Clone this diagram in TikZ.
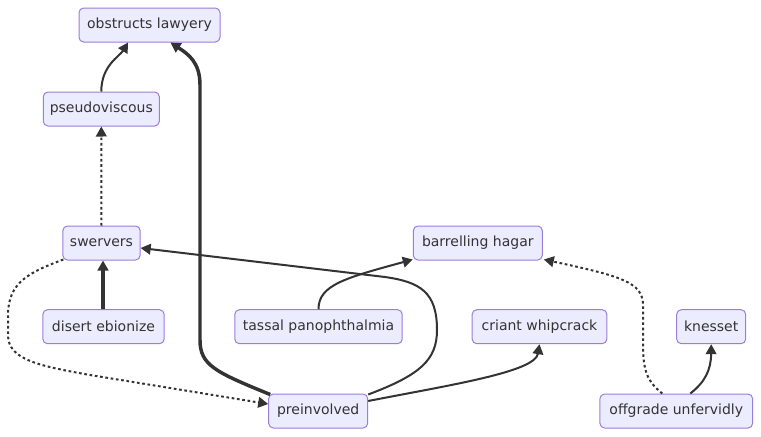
\documentclass[tikz,border=0pt]{standalone}
\usepackage{fontspec}
\setmainfont{DejaVu Sans}
\usetikzlibrary{arrows.meta,calc}
\definecolor{boxfill}{RGB}{236,236,255}
\definecolor{boxline}{RGB}{155,125,218}
\definecolor{inkline}{RGB}{51,51,51}
\tikzset{every picture/.style={line width=0.75pt}}
\tikzset{
  nodebox/.style={draw=boxline, fill=boxfill, rounded corners=3.5pt, line width=0.75pt, text=inkline, font=\fontsize{10.5}{12}\selectfont, minimum height=25.5pt, inner sep=0pt},
  link/.style={draw=inkline, line width=1.5pt, -{Triangle[length=7.5pt,width=8pt]}},
  thicklink/.style={link, line width=2.6pt},
  dotlink/.style={link, dash pattern={on 2pt off 2pt}}
}
\begin{document}
\begin{tikzpicture}[x=0.75pt,y=0.75pt,yscale=-1,xscale=1]
        \useasboundingbox (0,0) rectangle (761,436);

        % Text Node
        \node (obstructs) at (149.5,25) [nodebox, minimum width=105.75pt] {obstructs lawyery};
        % Text Node
        \node (pseudo) at (101.3,109) [nodebox, minimum width=87pt] {pseudoviscous};
        % Text Node
        \node (swervers) at (101.5,243) [nodebox, minimum width=58pt] {swervers};
        % Text Node
        \node (disert) at (103.5,326.7) [nodebox, minimum width=91pt] {disert ebionize};
        % Text Node
        \node (tassal) at (318.5,326.7) [nodebox, minimum width=125.6pt] {tassal panophthalmia};
        % Text Node
        \node (preinv) at (318.2,411) [nodebox, minimum width=74.25pt] {preinvolved};
        % Text Node
        \node (barrel) at (477.8,243) [nodebox, minimum width=96.75pt] {barrelling hagar};
        % Text Node
        \node (criant) at (539.5,326.7) [nodebox, minimum width=101pt] {criant whipcrack};
        % Text Node
        \node (knesset) at (711.2,326.7) [nodebox, minimum width=51.75pt] {knesset};
        % Text Node
        \node (offgrade) at (676.3,411) [nodebox, minimum width=114.5pt] {offgrade unfervidly};

        %Curve Lines
        \draw [link] (pseudo.north) .. controls ($(pseudo.north)+(0,-26)$) and ($(obstructs.south)+(-30,14)$) .. ($(obstructs.south)+(-21.5,0)$) ;
        %Straight Lines
        \draw [dotlink] (swervers.north) -- (pseudo.south) ;
        %Straight Lines
        \draw [thicklink] ($(disert.north)+(-0.5,0)$) -- ($(swervers.south)+(1.5,0)$) ;
        %Curve Lines
        \draw [thicklink] ($(preinv.north west)+(2,1)$) .. controls (215,372) and (200,365) .. (200,340) -- (200,85) .. controls (200,62) and (188,54) .. ($(obstructs.south)+(21,0)$) ;
        %Curve Lines
        \draw [link] ($(preinv.north east)+(0,1)$) .. controls (420,375) and (437,360) .. (437,330) .. controls (437,292) and (420,282) .. (385,277) -- ($(swervers.east)+(0,5)$) ;
        %Curve Lines
        \draw [dotlink] ($(swervers.south west)+(1,-1)$) .. controls (30,272) and (8,282) .. (8,315) -- (8,335) .. controls (8,360) and (40,366) .. (90,375) -- ($(preinv.west)+(0,-7)$) ;
        %Curve Lines
        \draw [link] (tassal.north) .. controls (318.5,285) and (345,278) .. ($(barrel.south west)+(0,-1)$) ;
        %Curve Lines
        \draw [link] ($(preinv.east)+(0,-10)$) .. controls (450,385) and (535,372) .. (criant.south) ;
        %Curve Lines
        \draw [dotlink] ($(offgrade.north)+(-14,0)$) .. controls (648,382) and (643,372) .. (643,345) -- (643,305) .. controls (643,282) and (620,276) .. ($(barrel.south east)+(1,-1)$) ;
        %Curve Lines
        \draw [link] ($(offgrade.north)+(14,0)$) .. controls (705,382) and (711,370) .. (knesset.south) ;

    \end{tikzpicture}
\end{document}
